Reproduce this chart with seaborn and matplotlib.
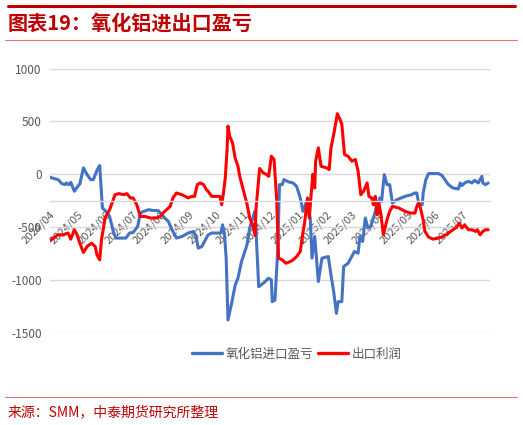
import numpy as np
import pandas as pd
import matplotlib
matplotlib.use("Agg")
import matplotlib.pyplot as plt
import matplotlib.lines as mlines
import seaborn as sns

# 数据：自 2024-04-01 起的天数及对应数值（元/吨）
start = pd.Timestamp("2024-04-01")

blue_days = [0, 6, 9, 13, 17, 18, 21, 23, 27, 30, 33, 37, 41, 45, 48, 52, 55, 58, 62, 66,
             70, 73, 84, 88, 92, 97, 100, 102, 109, 114, 120, 124, 127, 131, 135, 140, 146, 153, 159, 162,
             164, 168, 172, 175, 179, 186, 189, 191, 193, 195, 197, 201, 205, 208, 212, 218, 221, 225, 227, 231,
             236, 242, 245, 246, 249, 252, 254, 257, 259, 264, 269, 273, 277, 280, 284, 288, 290, 293, 297, 301,
             308, 311, 314, 317, 319, 323, 325, 330, 334, 337, 341, 343, 346, 349, 352, 355, 359, 362, 363, 365,
             367, 370, 373, 376, 379, 384, 393, 400, 404, 406, 408, 412, 413, 416, 419, 430, 434, 437, 441, 446,
             452, 454, 456, 459, 463, 467, 470, 474, 478, 479, 482, 485]
blue_vals = [-28, -44, -50, -88, -98, -82, -98, -76, -161, -123, -91, 61, -3, -50, -50, 38, 83, -319, -351, -399,
             -541, -604, -604, -556, -551, -494, -367, -357, -335, -342, -345, -383, -414, -446, -525, -604, -589, -556, -541, -604,
             -699, -684, -620, -573, -556, -556, -556, -478, -556, -794, -1380, -1222, -1048, -984, -826, -668, -509, -399, -351, -1064,
             -1032, -984, -1000, -1206, -1190, -731, -98, -98, -50, -72, -82, -114, -224, -351, -256, -414, -794, -589, -1016, -794,
             -779, -953, -1111, -1317, -1206, -1206, -874, -842, -779, -731, -747, -589, -636, -414, -509, -494, -383, -288, -288, -224,
             -256, -3, -98, -98, -272, -240, -209, -193, -177, -177, -272, -288, -177, -50, 7, 7, -12, -50, -98, -130,
             -139, -82, -107, -82, -66, -82, -57, -82, -19, -82, -98, -82]

red_days = [0, 6, 9, 15, 20, 23, 27, 30, 33, 37, 41, 46, 50, 52, 55, 57, 61, 66, 72, 76,
            82, 85, 89, 92, 96, 100, 105, 111, 118, 122, 125, 129, 133, 136, 140, 146, 153, 157, 160, 163,
            166, 170, 173, 175, 179, 185, 188, 190, 192, 194, 196, 197, 199, 202, 205, 208, 210, 214, 218, 221,
            224, 227, 228, 232, 236, 240, 242, 245, 248, 251, 253, 257, 261, 266, 269, 273, 277, 279, 282, 285,
            287, 289, 291, 293, 294, 297, 300, 306, 309, 311, 314, 316, 318, 321, 323, 326, 330, 334, 338, 341,
            344, 347, 351, 353, 356, 358, 360, 362, 364, 366, 369, 373, 376, 379, 386, 393, 399, 404, 406, 408,
            410, 413, 415, 419, 424, 430, 435, 441, 446, 450, 453, 456, 459, 463, 467, 471, 473, 476, 479, 482, 485]
red_vals = [-630, -589, -573, -573, -556, -614, -525, -573, -652, -741, -684, -652, -684, -763, -810, -620, -414, -335, -193, -183,
            -193, -183, -224, -224, -288, -399, -399, -414, -414, -399, -367, -335, -304, -224, -177, -193, -224, -209, -209, -98,
            -82, -98, -145, -161, -209, -209, -209, -288, -177, -34, 235, 456, 355, 298, 150, 80, -19, -150, -280, -414,
            -470, -580, -330, 55, 13, -3, -19, 171, 140, -256, -794, -810, -842, -826, -810, -779, -731, -604, -446, -224,
            -414, -193, 0, -130, 124, 251, 76, 61, 45, 251, 377, 472, 574, 520, 472, 187, 171, 124, 140, 29,
            -193, -161, -82, -209, -224, -288, -209, -383, -272, -367, -573, -430, -351, -304, -319, -351, -367, -367, -304, -266,
            -319, -430, -541, -595, -614, -604, -589, -556, -525, -500, -462, -509, -478, -525, -525, -541, -525, -573, -541, -525, -525]

blue_name = "氧化铝进口盈亏"
red_name = "出口利润"
month_labels = ["2024/04", "2024/05", "2024/06", "2024/07", "2024/08", "2024/09", "2024/10", "2024/11",
                "2024/12", "2025/01", "2025/02", "2025/03", "2025/04", "2025/05", "2025/06", "2025/07", ""]
y_ticks = [-1500, -1000, -500, 0, 500, 1000]

blue_df = pd.DataFrame({"date": start + pd.to_timedelta(blue_days, unit="D"), "value": blue_vals})
red_df = pd.DataFrame({"date": start + pd.to_timedelta(red_days, unit="D"), "value": red_vals})

sns.set_style("white")
plt.rcParams["font.family"] = ["Noto Sans CJK SC", "DejaVu Sans"]

BLUE = "#4472C4"
RED = "#FF0000"
DARKRED = "#C00000"
GRAY = "#595959"

fig = plt.figure(figsize=(5.23, 4.25), dpi=100)
ax = fig.add_axes([50 / 523, 1 - 332.7 / 425, 440 / 523, (332.7 - 68.7) / 425])

sns.lineplot(data=blue_df, x="date", y="value", ax=ax, color=BLUE, linewidth=2.2)
sns.lineplot(data=red_df, x="date", y="value", ax=ax, color=RED, linewidth=2.2)

ax.set_ylim(-1500, 1000)
ax.set_xlim(start, pd.Timestamp("2025-08-01"))
ax.set_yticks(y_ticks)
ax.set_yticklabels([str(v) for v in y_ticks])
ax.yaxis.grid(True, color="#D9D9D9", linewidth=1)
ax.set_axisbelow(True)

month_ticks = pd.date_range(start, periods=len(month_labels), freq="MS")
ax.set_xticks(month_ticks)
ax.set_xticklabels(month_labels)
ax.tick_params(axis="x", direction="out", length=5, color="#BFBFBF", pad=1,
               labelcolor=GRAY, labelsize=8, labelrotation=45)
ax.tick_params(axis="y", length=0, pad=6, labelcolor=GRAY, labelsize=8.5)

for s in ["top", "right", "left"]:
    ax.spines[s].set_visible(False)
ax.spines["bottom"].set_position(("data", -250))
ax.spines["bottom"].set_color("#D9D9D9")
ax.spines["bottom"].set_linewidth(1)
ax.set_xlabel("")
ax.set_ylabel("")

handles = [mlines.Line2D([], [], color=BLUE, linewidth=2.4),
           mlines.Line2D([], [], color=RED, linewidth=2.4)]
fig.legend(handles, [blue_name, red_name], loc="center", bbox_to_anchor=(0.568, 1 - 354 / 425),
           ncol=2, frameon=False, fontsize=9, labelcolor=GRAY, handlelength=2.4,
           handletextpad=0.3, columnspacing=0.4)

# 标题与来源
fig.add_artist(mlines.Line2D([8 / 523, 515 / 523], [1 - 6 / 425] * 2, color=DARKRED, linewidth=2.2))
fig.add_artist(mlines.Line2D([5 / 523, 517 / 523], [1 - 40 / 425] * 2, color="#E57373", linewidth=0.8))
fig.add_artist(mlines.Line2D([5 / 523, 517 / 523], [1 - 397 / 425] * 2, color="#E57373", linewidth=0.8))
fig.text(8 / 523, 1 - 23 / 425, "图表19：氧化铝进出口盈亏", color=DARKRED, fontsize=14.5,
         fontweight="bold", va="center", ha="left")
fig.text(8 / 523, 1 - 412 / 425, "来源：SMM，中泰期货研究所整理", color=DARKRED, fontsize=10,
         va="center", ha="left")

fig.canvas.draw()
for lbl in ax.get_xticklabels():
    lbl.set_rotation(45)
    lbl.set_ha("right")
    lbl.set_rotation_mode("anchor")

fig.savefig("out.png", dpi=100)
